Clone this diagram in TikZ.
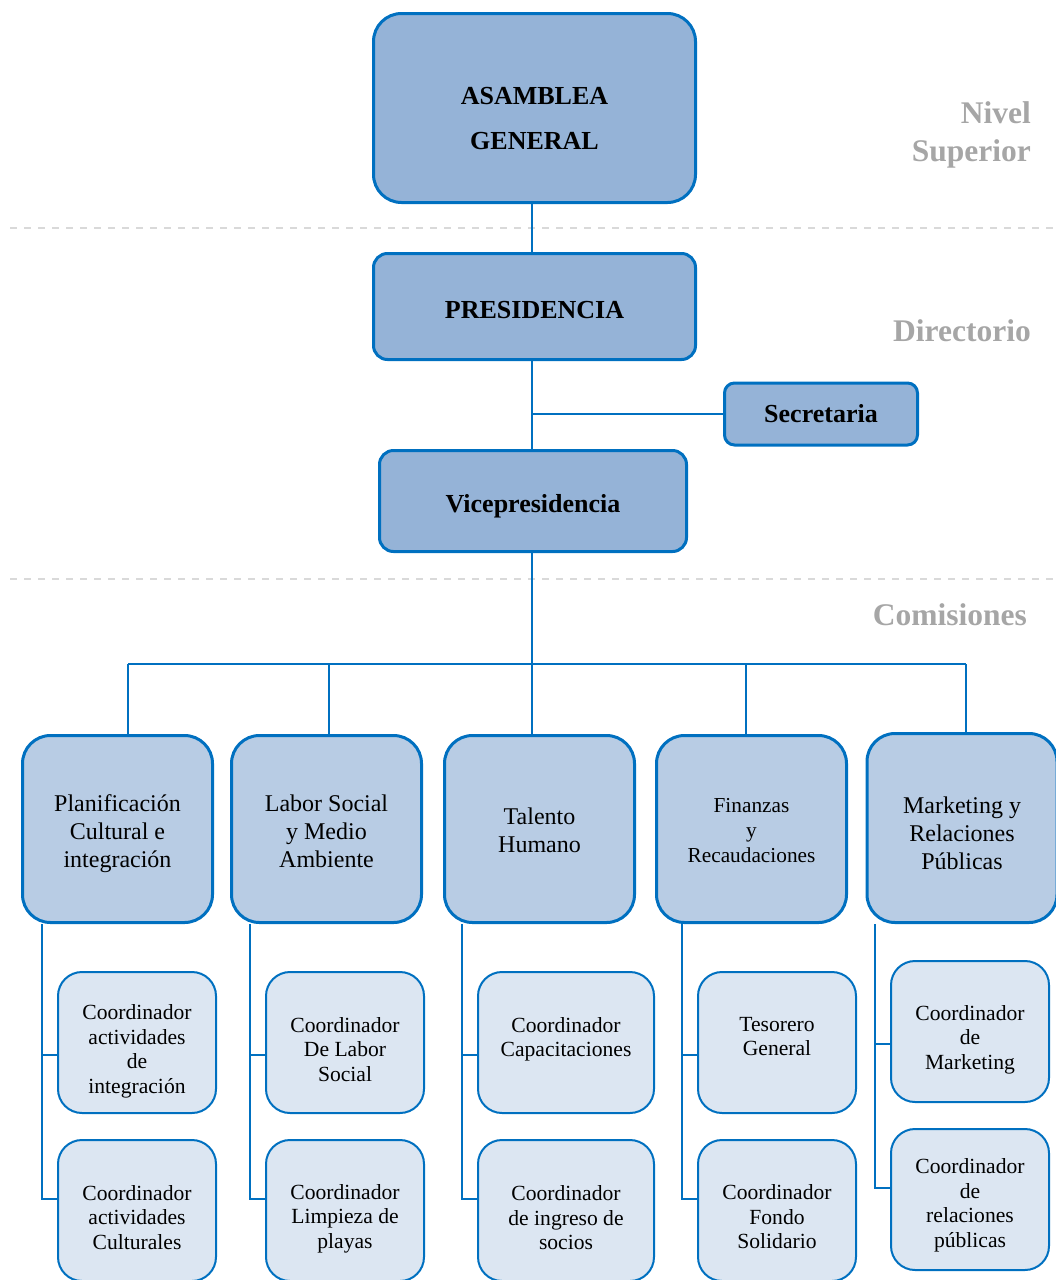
\documentclass[tikz,border=0pt]{standalone}
\usepackage{fontspec}
\setmainfont{Liberation Serif}
\definecolor{bordc}{HTML}{0070C0}
\definecolor{fillA}{HTML}{95B3D7}
\definecolor{fillB}{HTML}{B8CCE4}
\definecolor{fillC}{HTML}{DCE6F2}
\definecolor{grayt}{HTML}{A6A6A6}
\definecolor{sepc}{HTML}{D9D9D9}
\newcommand\topfnt{\bfseries\fontsize{26}{45}\selectfont}
\newcommand\comfnt{\fontsize{24}{28}\selectfont}
\newcommand\finfnt{\fontsize{21.3}{25}\selectfont}
\newcommand\kidfnt{\fontsize{21.6}{24.5}\selectfont}
\begin{document}
\begin{tikzpicture}[x=1pt,y=-1pt,
  box/.style={draw=bordc, align=center, inner sep=0pt, text=black},
  txt/.style n args={3}{label={[align=center, inner sep=0pt, text=black, font=#1, yshift=#2]center:{#3}}},
  lvlone/.style={box, fill=fillA, line width=3pt},
  comm/.style={box, fill=fillB, line width=3pt, minimum width=190pt, minimum height=187pt, rounded corners=28pt},
  kid/.style={box, fill=fillC, line width=2pt, minimum width=158pt, minimum height=141pt, rounded corners=24pt},
  conn/.style={draw=bordc, line width=2pt},
  lvltext/.style={text=grayt, font=\bfseries\fontsize{31.5}{38}\selectfont, align=right, anchor=east, inner sep=0pt},
  sepline/.style={draw=sepc, line width=1.5pt, dash pattern=on 7pt off 7pt}]
\useasboundingbox (0,0) rectangle (1056,1280);

% separators
\draw[sepline] (10,228) -- (1056,228);
\draw[sepline] (10,579) -- (1056,579);

% level labels
\node[lvltext] (lab1) at (1031,135) {Nivel\\Superior};
\node[lvltext] (lab2) at (1031,331) {Directorio};
\node[lvltext] (lab3) at (1027,615) {Comisiones};

% top levels
\node[lvlone, minimum width=322pt, minimum height=189pt, rounded corners=28pt,
  txt={\topfnt}{-11pt}{ASAMBLEA\\GENERAL}] (asam) at (534.5,108) {};
\node[lvlone, minimum width=322pt, minimum height=106pt, rounded corners=14pt,
  txt={\topfnt}{-4pt}{PRESIDENCIA}] (pres) at (534.5,306.5) {};
\node[lvlone, minimum width=193pt, minimum height=62pt, rounded corners=10pt,
  txt={\topfnt}{0pt}{Secretaria}] (secr) at (821,414) {};
\node[lvlone, minimum width=307pt, minimum height=101pt, rounded corners=14pt,
  txt={\topfnt}{-5pt}{Vicepresidencia}] (vice) at (533,501) {};

% commissions
\node[comm, txt={\comfnt}{-5pt}{Planificación\\Cultural e\\integración}] (c1) at (117.5,829) {};
\node[comm, txt={\comfnt}{-2.5pt}{Labor Social\\y Medio\\Ambiente}] (c2) at (326.5,829) {};
\node[comm, txt={\comfnt}{-1pt}{Talento\\Humano}] (c3) at (539.5,829) {};
\node[comm, txt={\finfnt}{-2pt}{Finanzas\\y\\Recaudaciones}] (c4) at (751.5,829) {};
\node[comm, minimum height=189pt, txt={\comfnt}{-5pt}{Marketing y\\Relaciones\\Públicas}] (c5) at (962,828) {};

% children
\node[kid, txt={\kidfnt}{-9pt}{Coordinador\\actividades\\de\\integración}] (k11) at (137,1042.5) {};
\node[kid, txt={\kidfnt}{-7pt}{Coordinador\\actividades\\Culturales}] (k12) at (137,1210.5) {};
\node[kid, txt={\kidfnt}{-7pt}{Coordinador\\De Labor\\Social}] (k21) at (345,1042.5) {};
\node[kid, txt={\kidfnt}{-8pt}{Coordinador\\Limpieza de\\playas}] (k22) at (345,1210.5) {};
\node[kid, minimum width=176pt, txt={\kidfnt}{3pt}{Coordinador\\Capacitaciones}] (k31) at (566,1042.5) {};
\node[kid, minimum width=176pt, txt={\kidfnt}{-7.5pt}{Coordinador\\de ingreso de\\socios}] (k32) at (566,1210.5) {};
\node[kid, txt={\kidfnt}{6pt}{Tesorero\\General}] (k41) at (777,1042.5) {};
\node[kid, txt={\kidfnt}{-6.5pt}{Coordinador\\Fondo\\Solidario}] (k42) at (777,1210.5) {};
\node[kid, txt={\kidfnt}{-8pt}{Coordinador\\de\\Marketing}] (k51) at (970,1031.5) {};
\node[kid, txt={\kidfnt}{-6pt}{Coordinador\\de\\relaciones\\públicas}] (k52) at (970,1199.5) {};

% trunk
\coordinate (tr) at (532,0);
\draw[conn] (asam.south -| tr) -- (pres.north -| tr);
\draw[conn] (pres.south -| tr) -- (vice.north -| tr);
\draw[conn] (secr.west) -- (secr.west -| tr);
\draw[conn] (vice.south -| tr) -- (c3.north -| tr);

% bus
\coordinate (b1) at (128,664);
\coordinate (b2) at (329,664);
\coordinate (b4) at (746,664);
\coordinate (b5) at (966,664);
\draw[conn] (b1) -- (b5);
\foreach \i in {1,2,4,5}{\draw[conn] (b\i) -- (b\i |- c\i.north);}

% child spines
\coordinate (s1) at (42,0);
\coordinate (s2) at (250,0);
\coordinate (s3) at (462,0);
\coordinate (s4) at (682,0);
\coordinate (s5) at (875,0);
\foreach \i in {1,...,5}{
  \draw[conn] (s\i |- c\i.south) |- ([yshift=11.5pt]k\i2.west);
  \draw[conn] ([yshift=-12.5pt]k\i1.west) -- ([yshift=-12.5pt]k\i1.west -| s\i);
}
\end{tikzpicture}
\end{document}
